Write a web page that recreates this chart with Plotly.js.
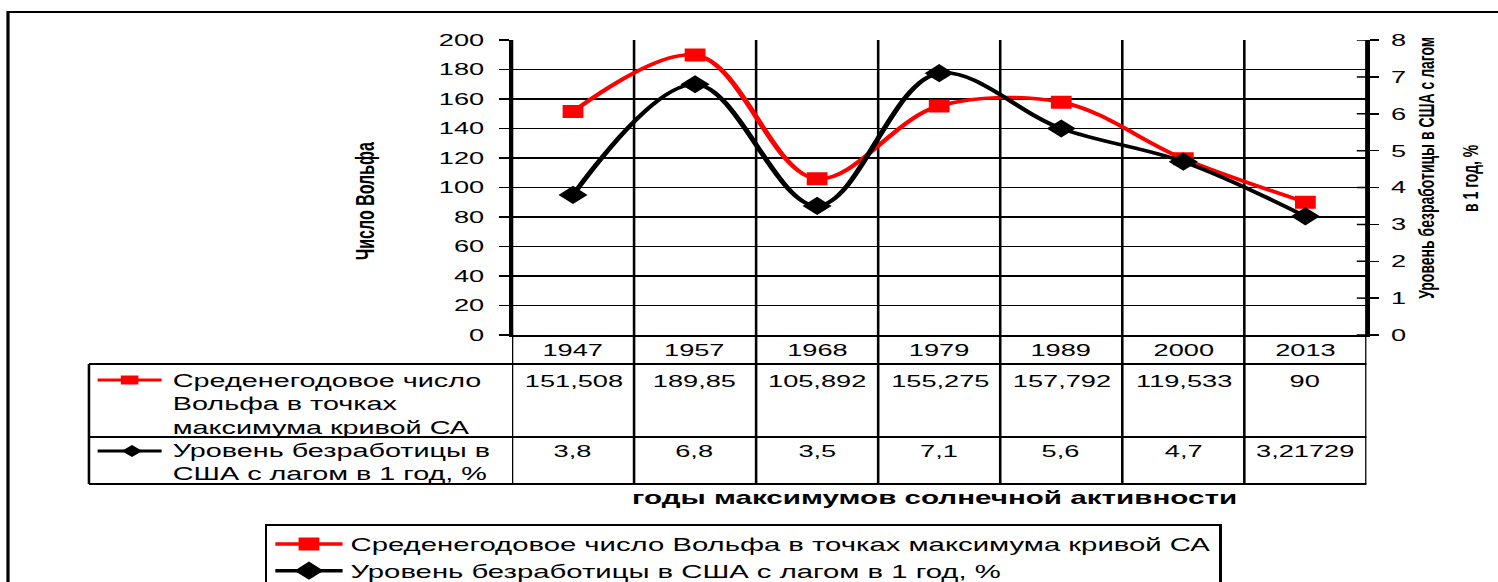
<!DOCTYPE html>
<html>
<head>
<meta charset="utf-8">
<script src="https://cdn.plot.ly/plotly-3.0.1.min.js"></script>
<style>
  html, body { margin: 0; padding: 0; background: #fff; overflow: hidden; }
  #chart { width: 937px; height: 582px; transform: scaleX(1.6); transform-origin: 0 0; }
</style>
</head>
<body>
<div id="chart"></div>
<script>
// ---- data ----
const years = ['1947', '1957', '1968', '1979', '1989', '2000', '2013'];
const wolf = [151.508, 189.85, 105.892, 155.275, 157.792, 119.533, 90];
const unemp = [3.8, 6.8, 3.5, 7.1, 5.6, 4.7, 3.21729];
const wolfName = 'Среденегодовое число Вольфа в точках максимума кривой СА';
const unempName = 'Уровень безработицы в США с лагом в 1 год, %';
const wolfRowLabel = 'Среденегодовое число<br>Вольфа в точках<br>максимума кривой СА';
const unempRowLabel = 'Уровень безработицы в<br>США с лагом в 1 год, %';
const leftTitle = 'Число Вольфа';
const rightTitle1 = 'Уровень безработицы в США с лагом';
const rightTitle2 = 'в 1 год, %';
const xTitle = 'годы максимумов солнечной активности';
const rightTickVals = [0, 1, 2, 3, 4, 5, 6, 7, 8];

// ---- layout helpers (unscaled pixel -> paper) ----
const W = 937, H = 582, L = 320, R = 83, T = 40, B = 247;
const PW = W - L - R, PH = H - T - B;
const px = x => (x - L) / PW;
const py = y => (H - B - y) / PH;
const fmt = v => String(v).replace('.', ',');
const FONT = 'Liberation Sans, Arial, sans-serif';

const traces = [
  { x: years, y: wolf, name: wolfName, type: 'scatter', mode: 'lines+markers',
    line: { color: '#ff0000', width: 3.5, shape: 'spline' },
    marker: { symbol: 'square', size: 13, color: '#ff0000' }, yaxis: 'y', hoverinfo: 'skip' },
  { x: years, y: unemp, name: unempName, type: 'scatter', mode: 'lines+markers',
    line: { color: '#000000', width: 3.5, shape: 'spline' },
    marker: { symbol: 'diamond', size: 14, color: '#000000' }, yaxis: 'y2', hoverinfo: 'skip' }
];

const shapes = [];
const tableTop = py(364), rowSep = py(437), tableBottom = py(484), tableLeft = px(55.6);
// vertical category lines (plot + table)
for (let i = 0; i <= years.length; i++) {
  shapes.push({ type: 'line', xref: 'x', yref: 'paper', x0: i - 0.5, x1: i - 0.5, y0: 1, y1: tableBottom,
    line: { color: '#000', width: 1.6 }, layer: 'below' });
}
// table horizontal lines
[tableTop, rowSep, tableBottom].forEach(y => {
  shapes.push({ type: 'line', xref: 'paper', yref: 'paper', x0: tableLeft, x1: 1, y0: y, y1: y,
    line: { color: '#000', width: 1.8 } });
});
shapes.push({ type: 'line', xref: 'paper', yref: 'paper', x0: tableLeft, x1: tableLeft, y0: tableTop, y1: tableBottom,
  line: { color: '#000', width: 1.6 } });
// inside part of right-axis cross ticks
rightTickVals.forEach(v => {
  shapes.push({ type: 'line', xref: 'paper', yref: 'y2', x0: 1 - 6 / PW, x1: 1, y0: v, y1: v,
    line: { color: '#000', width: 1.5 } });
});
// legend keys in the data table
const rk = py(380), bk = py(451);
shapes.push({ type: 'line', xref: 'paper', yref: 'paper', x0: px(61), x1: px(101), y0: rk, y1: rk,
  line: { color: '#ff0000', width: 3 } });
shapes.push({ type: 'rect', xref: 'paper', yref: 'paper', x0: px(75.5), x1: px(86.5), y0: rk - 4.5 / PH, y1: rk + 4.5 / PH,
  fillcolor: '#ff0000', line: { width: 0 } });
shapes.push({ type: 'line', xref: 'paper', yref: 'paper', x0: px(61), x1: px(101), y0: bk, y1: bk,
  line: { color: '#000', width: 3 } });
{
  const cx = px(82.5), hw = 6.5 / PW, hh = 6 / PH;
  shapes.push({ type: 'path', xref: 'paper', yref: 'paper',
    path: `M ${cx - hw} ${bk} L ${cx} ${bk + hh} L ${cx + hw} ${bk} L ${cx} ${bk - hh} Z`,
    fillcolor: '#000', line: { width: 0 } });
}
// outer chart border
shapes.push({ type: 'rect', xref: 'paper', yref: 'paper', x0: px(5), x1: 3, y0: py(12), y1: -3,
  line: { color: '#000', width: 2 }, fillcolor: 'rgba(0,0,0,0)' });

const annotations = [];
const ann = (o) => annotations.push(Object.assign({ showarrow: false, xanchor: 'center', yanchor: 'middle',
  font: { family: FONT, size: 17, color: '#000' } }, o));
years.forEach((yr, i) => {
  ann({ xref: 'x', yref: 'paper', x: i, y: py(350), text: yr });
  ann({ xref: 'x', yref: 'paper', x: i, y: py(381), text: fmt(wolf[i]) });
  ann({ xref: 'x', yref: 'paper', x: i, y: py(451), text: fmt(unemp[i]) });
});
ann({ xref: 'paper', yref: 'paper', x: px(106), y: py(404), xanchor: 'left', align: 'left', text: wolfRowLabel,
  font: { family: FONT, size: 18, color: '#000' } });
ann({ xref: 'paper', yref: 'paper', x: px(106), y: py(462), xanchor: 'left', align: 'left', text: unempRowLabel,
  font: { family: FONT, size: 18, color: '#000' } });
ann({ xref: 'paper', yref: 'paper', x: px(584), y: py(497), text: '<b>' + xTitle + '</b>',
  font: { family: FONT, size: 18.5, color: '#000' } });
ann({ xref: 'paper', yref: 'paper', x: px(228), y: py(201), text: '<b>' + leftTitle + '</b>', textangle: -90,
  font: { family: FONT, size: 16, color: '#000' } });
ann({ xref: 'paper', yref: 'paper', x: px(891), y: py(168), text: '<b>' + rightTitle1 + '</b>', textangle: -90,
  font: { family: FONT, size: 14, color: '#000' } });
ann({ xref: 'paper', yref: 'paper', x: px(919), y: py(178), text: '<b>' + rightTitle2 + '</b>', textangle: -90,
  font: { family: FONT, size: 14, color: '#000' } });

const layout = {
  width: W, height: H,
  margin: { l: L, r: R, t: T, b: B, pad: 0, autoexpand: false },
  paper_bgcolor: '#fff', plot_bgcolor: '#fff',
  showlegend: true,
  legend: { x: px(165.6), y: py(524), xanchor: 'left', yanchor: 'top', orientation: 'v',
    bordercolor: '#000', borderwidth: 1.5, bgcolor: '#fff', itemwidth: 42,
    font: { family: FONT, size: 18.3, color: '#000' }, tracegroupgap: 0 },
  xaxis: { type: 'category', range: [-0.5, 6.5], showgrid: false, zeroline: false, automargin: false,
    showticklabels: false, ticks: '', showline: true, linecolor: '#000', linewidth: 2, fixedrange: true },
  yaxis: { range: [0, 200], dtick: 20, tick0: 0, showgrid: true, gridcolor: '#000', gridwidth: 1.3,
    zeroline: false, showline: true, linecolor: '#000', linewidth: 2, automargin: false,
    ticks: 'outside', ticklen: 6, tickwidth: 1.5, tickcolor: '#000', ticklabelstandoff: 6,
    tickfont: { family: FONT, size: 17, color: '#000' }, fixedrange: true },
  yaxis2: { range: [0, 8], dtick: 1, tick0: 0, overlaying: 'y', side: 'right', showgrid: false,
    zeroline: false, showline: true, linecolor: '#000', linewidth: 2, automargin: false,
    ticks: 'outside', ticklen: 6, tickwidth: 1.5, tickcolor: '#000', ticklabelstandoff: 4,
    tickfont: { family: FONT, size: 17, color: '#000' }, fixedrange: true },
  shapes: shapes,
  annotations: annotations
};

Plotly.newPlot('chart', traces, layout, { staticPlot: true, displayModeBar: false });
</script>
</body>
</html>
